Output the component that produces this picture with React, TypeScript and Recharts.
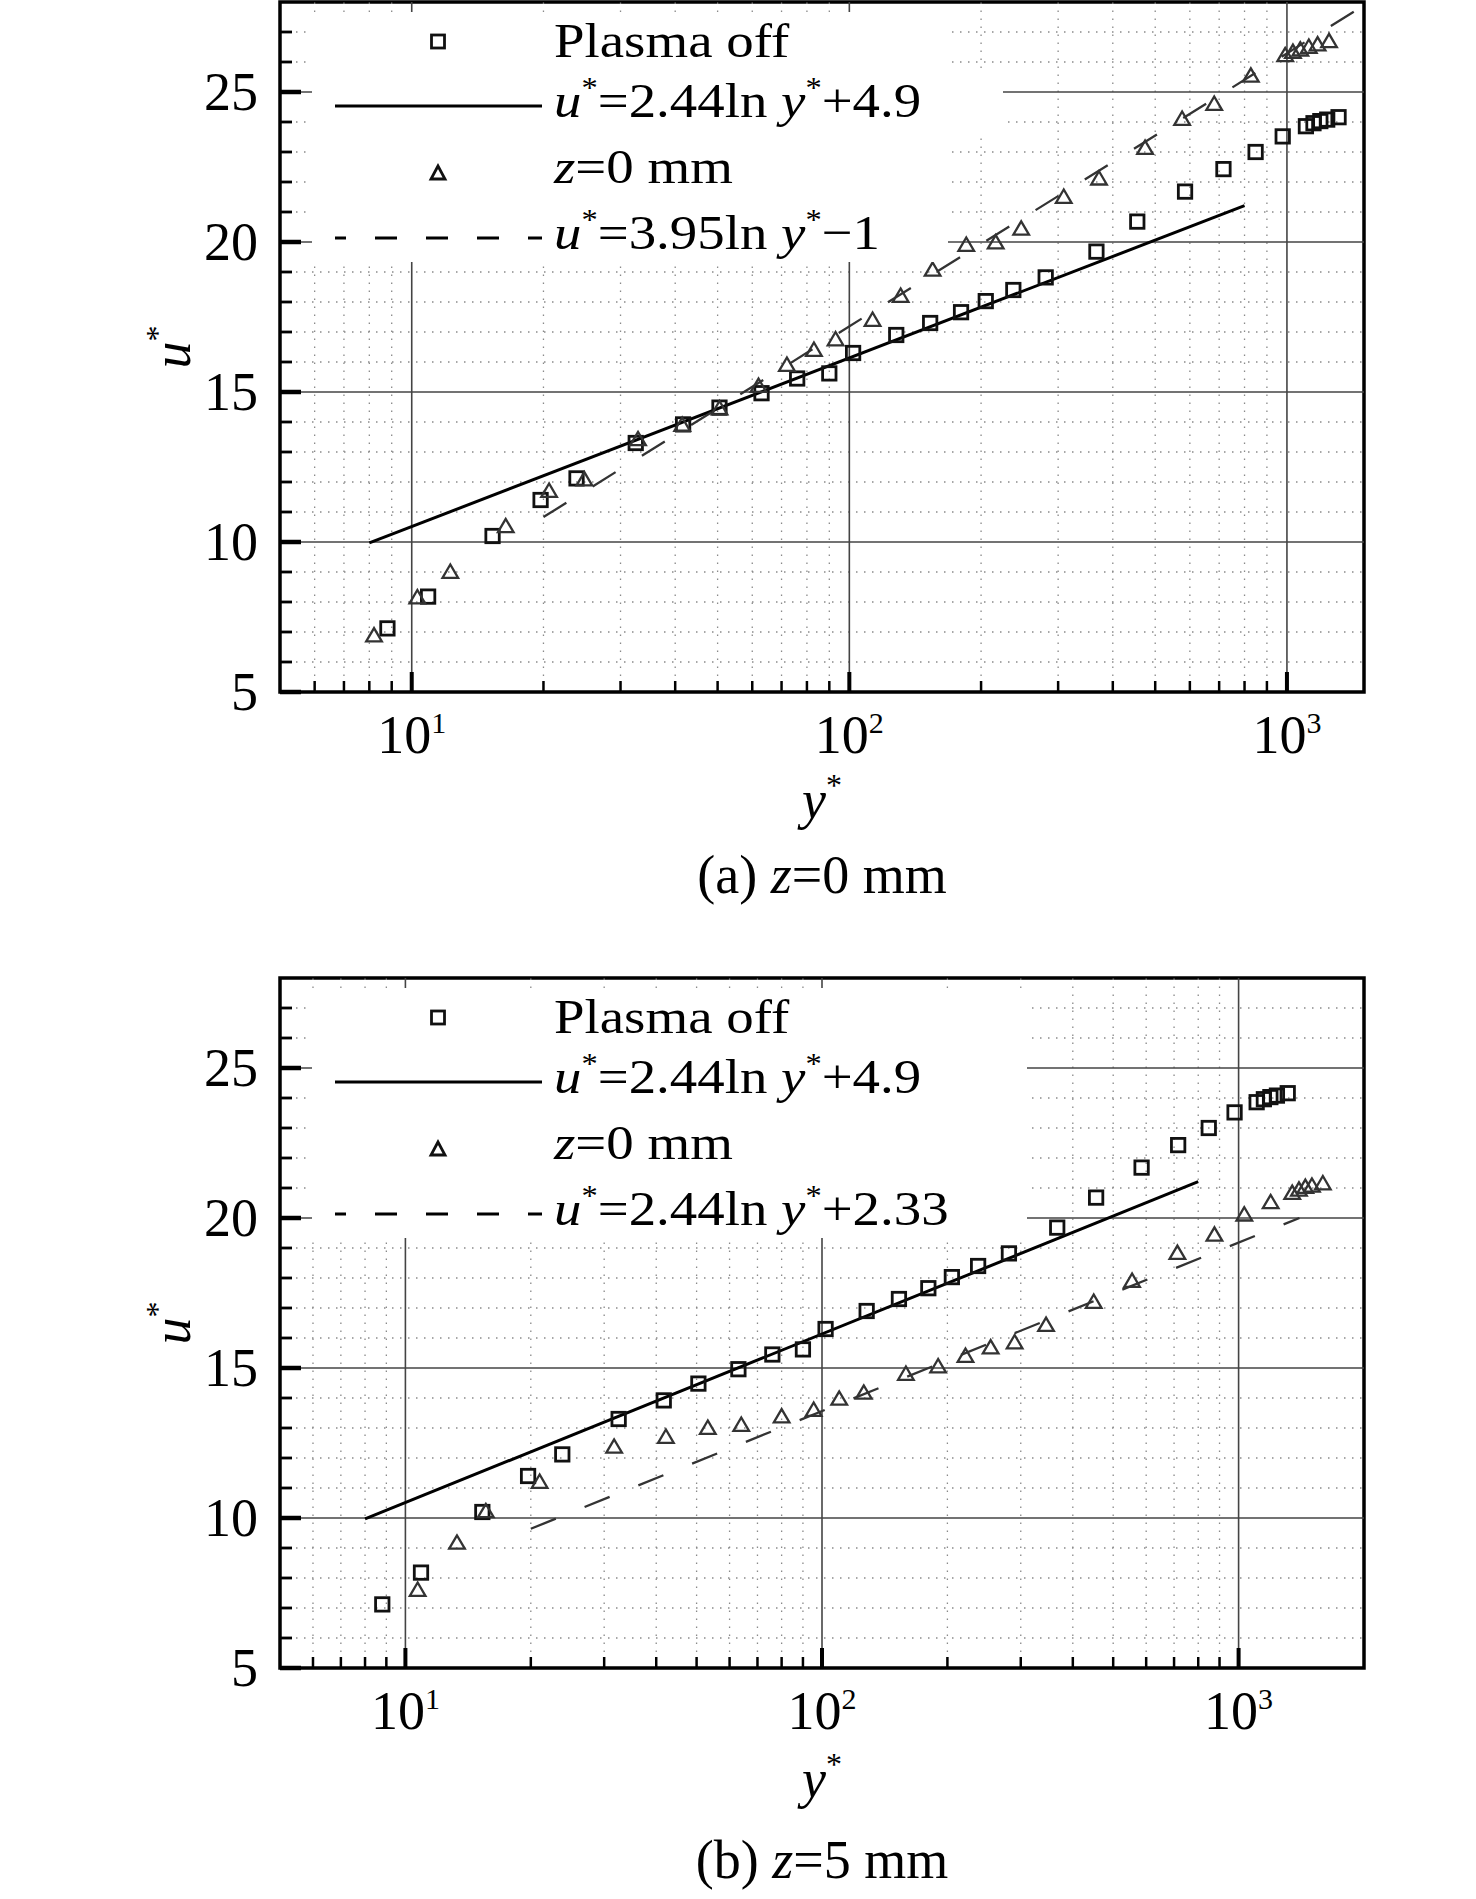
import React from 'react';
import { ComposedChart, Scatter, Line, XAxis, YAxis, ReferenceLine, ReferenceArea } from 'recharts';

const FONT = '"Liberation Serif", "Times New Roman", serif';

// ---------- data ----------
// Plasma off (same reference data in both panels)
const plasmaOffY = [8.8, 10.9, 15.3, 19.7, 23.8, 32.5, 41.7, 50.5, 63, 76, 90, 102, 128, 153, 180, 205, 237, 281, 367, 455, 585, 716, 848, 978, 1105, 1150, 1192, 1236, 1312];
const plasmaOffU = [7.12, 8.18, 10.2, 11.4, 12.12, 13.3, 13.92, 14.48, 14.96, 15.45, 15.62, 16.3, 16.9, 17.3, 17.66, 18.03, 18.4, 18.82, 19.68, 20.68, 21.68, 22.43, 23.0, 23.52, 23.86, 23.96, 24.03, 24.08, 24.16];

// Panel (a): z=0 mm
const triAY = [8.2, 10.3, 12.25, 16.4, 20.6, 24.8, 32.9, 41.5, 50.5, 62, 72, 83, 93, 113, 131, 155, 185, 216, 247, 309, 372, 474, 576, 682, 827, 991, 1032, 1073, 1122, 1175, 1248];
const triAU = [6.88, 8.15, 9.0, 10.52, 11.7, 12.08, 13.42, 13.9, 14.45, 15.2, 15.9, 16.4, 16.75, 17.4, 18.2, 19.07, 19.9, 19.98, 20.44, 21.5, 22.11, 23.13, 24.1, 24.6, 25.54, 26.22, 26.33, 26.41, 26.5, 26.58, 26.69];

// Panel (b): z=5 mm
const triBY = [10.7, 13.3, 15.6, 21, 31.7, 42.2, 53.2, 64, 80, 95.5, 110, 126, 159, 190, 221, 254, 290, 345, 449, 555, 713, 875, 1032, 1194, 1345, 1396, 1446, 1500, 1593];
const triBU = [7.6, 9.17, 10.22, 11.2, 12.37, 12.7, 13.0, 13.1, 13.38, 13.6, 13.97, 14.17, 14.8, 15.05, 15.4, 15.68, 15.85, 16.43, 17.2, 17.9, 18.83, 19.44, 20.11, 20.52, 20.83, 20.94, 21.03, 21.07, 21.15];

// Fitted log-law lines (end points)
const solidFitY = [8, 800];
const solidFitU = [9.97, 21.21];
const dashAFitY = [20, 1500];
const dashAFitU = [10.83, 27.89];
const dashBFitY = [20, 1400];
const dashBFitU = [9.64, 20.0];

// Axis ticks
const majorXTicks = [10, 100, 1000];
const majorXExp = ['1', '2', '3'];
const minorXTicks = [6, 7, 8, 9, 20, 30, 40, 50, 60, 70, 80, 90, 200, 300, 400, 500, 600, 700, 800, 900];
const majorYTicks = [5, 10, 15, 20, 25];
const minorYTicks = [6, 7, 8, 9, 11, 12, 13, 14, 16, 17, 18, 19, 21, 22, 23, 24, 26, 27];

const toPts = (xs: number[], us: number[]) => xs.map((x, i) => ({ x, u: us[i] }));
const PLASMA_OFF = toPts(plasmaOffY, plasmaOffU);
const TRI_A = toPts(triAY, triAU);
const TRI_B = toPts(triBY, triBU);
const SOLID_FIT = toPts(solidFitY, solidFitU);
const DASH_A = toPts(dashAFitY, dashAFitU);
const DASH_B = toPts(dashBFitY, dashBFitU);

const ALL_X_TICKS = [...minorXTicks, ...majorXTicks].sort((a, b) => a - b);
const ALL_Y_TICKS = [...minorYTicks, ...majorYTicks].sort((a, b) => a - b);

// ---------- shapes ----------
const SquareShape = (props: any) => {
  const { cx, cy } = props;
  if (cx == null || cy == null) return <g />;
  return <rect x={cx - 6.7} y={cy - 6.7} width={13.4} height={13.4} fill="none" stroke="#111" strokeWidth={2.8} />;
};
const TriShape = (props: any) => {
  const { cx, cy } = props;
  if (cx == null || cy == null) return <g />;
  const pts = `${cx},${cy - 7.5} ${cx - 7.8},${cy + 5.8} ${cx + 7.8},${cy + 5.8}`;
  return <polygon points={pts} fill="none" stroke="#333" strokeWidth={2.3} strokeLinejoin="miter" />;
};

const XTick = (props: any) => {
  const { x, y, payload } = props;
  const v = payload.value;
  const mi = majorXTicks.indexOf(v);
  const major = mi >= 0;
  return (
    <g>
      <line x1={x} x2={x} y1={y} y2={y - (major ? 20 : 11)} stroke="#000" strokeWidth={major ? 4 : 2.5} />
      {major && (
        <text x={x} y={y + 61} textAnchor="middle" fontFamily={FONT} fontSize={54} fill="#000">
          10<tspan fontSize={30} dy={-20}>{majorXExp[mi]}</tspan>
        </text>
      )}
    </g>
  );
};

const YTick = (props: any) => {
  const { x, y, payload } = props;
  const v = payload.value;
  const major = majorYTicks.includes(v);
  return (
    <g>
      <line x1={x} x2={x + (major ? 21 : 12)} y1={y} y2={y} stroke="#000" strokeWidth={major ? 4.5 : 2.8} />
      {major && (
        <text x={x - 22} y={y + 18} textAnchor="end" fontFamily={FONT} fontSize={54} fill="#000">
          {v}
        </text>
      )}
    </g>
  );
};

// legend text line, slightly widened like the reference lettering
const LegText = ({ x, y, children }: { x: number; y: number; children: React.ReactNode }) => (
  <g transform={`translate(${x},${y}) scale(1.12,1)`}>
    <text x={0} y={0} fontFamily={FONT} fontSize={49} fill="#000">
      {children}
    </text>
  </g>
);

const eqLabel = (coef: string, tail: string) => (
  <>
    <tspan fontStyle="italic">u</tspan>
    <tspan fontSize={29} dy={-20}>*</tspan>
    <tspan dy={20}>{'=' + coef + 'ln '}</tspan>
    <tspan fontStyle="italic">y</tspan>
    <tspan fontSize={29} dy={-20}>*</tspan>
    <tspan dy={20}>{tail}</tspan>
  </>
);

type PanelProps = {
  top: number;
  xMax: number;
  tri: { x: number; u: number }[];
  dash: { x: number; u: number }[];
  dashCoef: string;
  dashTail: string;
  caption: string;
  zText: string;
  capBaseline: number;
  yTitleBaseline: number;
  legendRight: number;
  row2Right?: number;
};

function Panel(p: PanelProps) {
  const fs = 54;
  return (
    <div style={{ position: 'absolute', left: 0, top: p.top, width: 1476, height: 923 }}>
      <ComposedChart width={1476} height={800} margin={{ top: 2, right: 112, bottom: 0, left: 0 }}>
        <XAxis
          dataKey="x"
          type="number"
          scale="log"
          domain={[5, p.xMax]}
          allowDataOverflow
          ticks={ALL_X_TICKS}
          interval={0}
          tickSize={0}
          tickMargin={0}
          axisLine={false}
          tickLine={false}
          tick={XTick}
          height={108}
        />
        <YAxis
          dataKey="u"
          type="number"
          domain={[5, 28]}
          allowDataOverflow
          ticks={ALL_Y_TICKS}
          interval={0}
          tickSize={0}
          tickMargin={0}
          axisLine={false}
          tickLine={false}
          tick={YTick}
          width={280}
        />
        {minorYTicks.map((v) => (
          <ReferenceLine key={'my' + v} y={v} stroke="#8a8a8a" strokeWidth={1.3} strokeDasharray="1.5 6.5" />
        ))}
        {minorXTicks.map((v) => (
          <ReferenceLine key={'mx' + v} x={v} stroke="#8a8a8a" strokeWidth={1.3} strokeDasharray="1.5 6.5" />
        ))}
        {majorYTicks.slice(1).map((v) => (
          <ReferenceLine key={'MY' + v} y={v} stroke="#444" strokeWidth={1.6} />
        ))}
        {majorXTicks.map((v) => (
          <ReferenceLine key={'MX' + v} x={v} stroke="#444" strokeWidth={1.6} />
        ))}
        <Line data={SOLID_FIT} dataKey="u" stroke="#000" strokeWidth={3} dot={false} activeDot={false} isAnimationActive={false} />
        <Line data={p.dash} dataKey="u" stroke="#333" strokeWidth={2.3} strokeDasharray="27 31" dot={false} activeDot={false} isAnimationActive={false} />
        <Scatter data={PLASMA_OFF} shape={SquareShape} isAnimationActive={false} />
        <Scatter data={p.tri} shape={TriShape} isAnimationActive={false} />
        <ReferenceArea x1={5} x2={p.xMax} y1={5} y2={28} fill="none" fillOpacity={0} stroke="#000" strokeWidth={3.5} />
      </ComposedChart>
      <svg width={1476} height={923} style={{ position: 'absolute', left: 0, top: 0, pointerEvents: 'none' }}>
        {/* legend background */}
        <rect x={312} y={12} width={p.legendRight - 312} height={250} fill="#fff" />
        {p.row2Right ? <rect x={312} y={74} width={p.row2Right - 312} height={62} fill="#fff" /> : null}
        {/* legend symbols */}
        <rect x={431.5} y={35} width={13} height={13} fill="none" stroke="#111" strokeWidth={2.8} />
        <line x1={335} x2={542} y1={106} y2={106} stroke="#000" strokeWidth={3} />
        <polygon points="438,166 431,179 445,179" fill="none" stroke="#111" strokeWidth={2.8} />
        <line x1={335} x2={542} y1={238} y2={238} stroke="#000" strokeWidth={3} strokeDasharray="22 29" strokeDashoffset={11} />
        {/* legend texts */}
        <LegText x={554} y={57}>Plasma off</LegText>
        <LegText x={554} y={117}>{eqLabel('2.44', '+4.9')}</LegText>
        <LegText x={554} y={183}>
          <tspan fontStyle="italic">z</tspan>
          <tspan>=0 mm</tspan>
        </LegText>
        <LegText x={554} y={249}>{eqLabel(p.dashCoef, p.dashTail)}</LegText>
        {/* axis titles */}
        <text transform={`translate(190,347) rotate(-90)`} textAnchor="middle" fontFamily={FONT} fontSize={fs} fill="#000">
          <tspan fontStyle="italic">u</tspan>
          <tspan fontSize={32} dy={-22}>*</tspan>
        </text>
        <text x={822} y={p.yTitleBaseline} textAnchor="middle" fontFamily={FONT} fontSize={fs} fill="#000">
          <tspan fontStyle="italic">y</tspan>
          <tspan fontSize={32} dy={-22}>*</tspan>
        </text>
        <text x={822} y={p.capBaseline} textAnchor="middle" fontFamily={FONT} fontSize={fs} fill="#000">
          <tspan>{p.caption + ' '}</tspan>
          <tspan fontStyle="italic">z</tspan>
          <tspan>{p.zText}</tspan>
        </text>
      </svg>
    </div>
  );
}

export default function App() {
  return (
    <div style={{ position: 'absolute', left: 0, top: 0, width: 1476, height: 1899, background: '#fff', overflow: 'hidden' }}>
      <Panel
        top={0}
        xMax={1500}
        tri={TRI_A}
        dash={DASH_A}
        dashCoef="3.95"
        dashTail="−1"
        caption="(a)"
        zText="=0 mm"
        capBaseline={893}
        yTitleBaseline={818}
        legendRight={948}
        row2Right={1003}
      />
      <Panel
        top={976}
        xMax={2000}
        tri={TRI_B}
        dash={DASH_B}
        dashCoef="2.44"
        dashTail="+2.33"
        caption="(b)"
        zText="=5 mm"
        capBaseline={902}
        yTitleBaseline={821}
        legendRight={1027}
      />
    </div>
  );
}
